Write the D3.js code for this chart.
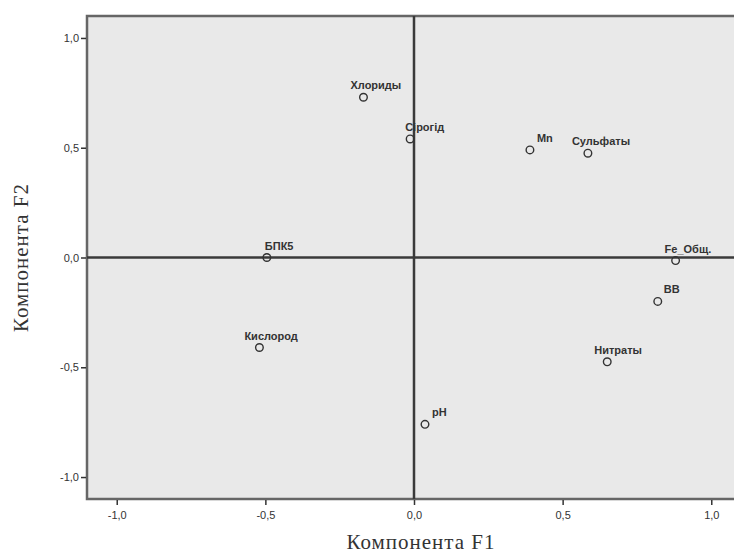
<!DOCTYPE html>
<html>
<head>
<meta charset="utf-8">
<script src="https://cdn.jsdelivr.net/npm/d3@7"></script>
<style>
  body { margin: 0; background: #fff; }
  svg { display: block; }
</style>
</head>
<body>
<svg id="chart"></svg>
<script>
// component loadings
const names = ["Хлориды", "Сірогід", "Mn", "Сульфаты", "БПК5", "Fe_Общ.", "ВВ", "Нитраты", "Кислород", "pH"];
const f1 = [-0.17, -0.013, 0.39, 0.585, -0.495, 0.88, 0.82, 0.65, -0.52, 0.037];
const f2 = [0.73, 0.54, 0.49, 0.475, 0.0, -0.014, -0.2, -0.475, -0.41, -0.76];
const ticks = [-1.0, -0.5, 0.0, 0.5, 1.0];
const tickLabels = ["-1,0", "-0,5", "0,0", "0,5", "1,0"];
// horizontal nudge of each label relative to its point (px)
const labelDx = [-13, -5, 7, -16, -2, -11, 6, -13, -15, 7];

const width = 734;
const height = 557;

const x = d3.scaleLinear().domain([-1.1, 1.1]).range([87, 741]);
const y = d3.scaleLinear().domain([-1.1, 1.1]).range([499, 16]);

const svg = d3.select("#chart").attr("width", width).attr("height", height);

// plot background
svg.append("rect")
  .attr("x", x(-1.1)).attr("y", y(1.1))
  .attr("width", x(1.1) - x(-1.1)).attr("height", y(-1.1) - y(1.1))
  .attr("fill", "#e9e9e9")
  .attr("stroke", "#666")
  .attr("stroke-width", 2.5);

// reference lines through origin
svg.append("line")
  .attr("x1", x(0)).attr("x2", x(0))
  .attr("y1", y(1.1)).attr("y2", y(-1.1))
  .attr("stroke", "#3a3a3a").attr("stroke-width", 2.5);
svg.append("line")
  .attr("x1", x(-1.1)).attr("x2", x(1.1))
  .attr("y1", y(0)).attr("y2", y(0))
  .attr("stroke", "#3a3a3a").attr("stroke-width", 2.5);

// axes
const fmt = (d) => tickLabels[ticks.indexOf(d)];

const xAxis = svg.append("g")
  .attr("transform", `translate(0,${y(-1.1) + 1})`)
  .call(d3.axisBottom(x).tickValues(ticks).tickFormat(fmt).tickSize(5).tickPadding(6));
const yAxis = svg.append("g")
  .attr("transform", `translate(${x(-1.1) - 1},0)`)
  .call(d3.axisLeft(y).tickValues(ticks).tickFormat(fmt).tickSize(5).tickPadding(2));

[xAxis, yAxis].forEach((g) => {
  g.select(".domain").remove();
  g.selectAll(".tick line").attr("stroke", "#333").attr("stroke-width", 1.5);
  g.selectAll(".tick text")
    .attr("fill", "#333")
    .style("font-family", "'Liberation Sans', Arial, sans-serif")
    .style("font-size", "11px");
});

// points
const pts = names.map((n, i) => ({ name: n, f1: f1[i], f2: f2[i], dx: labelDx[i] }));

svg.append("g").selectAll("circle")
  .data(pts)
  .join("circle")
  .attr("cx", (d) => x(d.f1))
  .attr("cy", (d) => y(d.f2))
  .attr("r", 3.8)
  .attr("fill", "none")
  .attr("stroke", "#333")
  .attr("stroke-width", 1.4);

svg.append("g").selectAll("text")
  .data(pts)
  .join("text")
  .attr("x", (d) => x(d.f1) + d.dx)
  .attr("y", (d) => y(d.f2) - 8)
  .attr("fill", "#333")
  .style("font-family", "'Liberation Sans', Arial, sans-serif")
  .style("font-size", "11px")
  .style("font-weight", "bold")
  .text((d) => d.name);

// axis titles
svg.append("text")
  .attr("x", x(0) + 7)
  .attr("y", 549)
  .attr("text-anchor", "middle")
  .attr("fill", "#333")
  .style("font-family", "'Liberation Serif', 'Times New Roman', serif")
  .style("font-size", "21px")
  .style("letter-spacing", "1px")
  .text("Компонента F1");

svg.append("text")
  .attr("transform", `translate(28,${y(0)}) rotate(-90)`)
  .attr("text-anchor", "middle")
  .attr("fill", "#333")
  .style("font-family", "'Liberation Serif', 'Times New Roman', serif")
  .style("font-size", "21px")
  .style("letter-spacing", "1px")
  .text("Компонента F2");
</script>
</body>
</html>
